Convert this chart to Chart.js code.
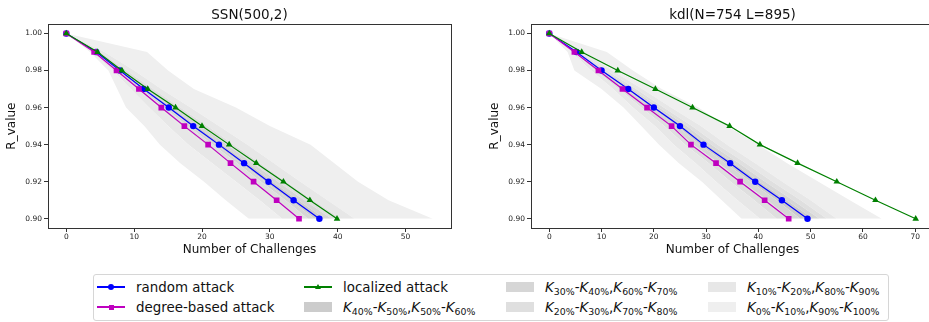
<!DOCTYPE html>
<html>
<head>
<meta charset="utf-8">
<script src="https://cdn.jsdelivr.net/npm/chart.js@4.4.1/dist/chart.umd.min.js"></script>
<style>
  html, body { margin: 0; padding: 0; background: #fff; }
  body { width: 929px; height: 322px; overflow: hidden; position: relative; font-family: "DejaVu Sans", sans-serif; color: #111; }
  canvas { position: absolute; top: 0; }
  #ssn { left: 0; }
  #kdl { left: 465px; }
  .legend { position: absolute; left: 93px; top: 274px; width: 796px; height: 47px; box-sizing: border-box;
            border: 1px solid #d6d6d6; border-radius: 3px; background: #fff; }
  .item { position: absolute; height: 20px; display: flex; align-items: center; font-size: 13.4px; white-space: nowrap; }
  .handle { position: relative; width: 28px; height: 20px; margin-right: 11px; flex: none; }
  .handle .ln { position: absolute; left: 0; right: 0; top: 9.4px; height: 1.3px; }
  .handle .mk { position: absolute; }
  .handle .patch { position: absolute; left: 0; top: 5px; width: 28px; height: 10px; }
  .k sub { font-size: 70%; vertical-align: baseline; position: relative; top: 0.32em; }
  .k i { font-style: italic; }
</style>
</head>
<body>
<canvas id="ssn" width="465" height="262"></canvas>
<canvas id="kdl" width="476" height="262"></canvas>

<div class="legend"></div>
<div class="item" style="left:97px;top:277px">
  <div class="handle"><div class="ln" style="background:#0000ff"></div>
    <div class="mk" style="left:11px;top:7px;width:6px;height:6px;border-radius:50%;background:#0000ff"></div></div>
  random attack</div>
<div class="item" style="left:97px;top:297px">
  <div class="handle"><div class="ln" style="background:#bf00bf"></div>
    <div class="mk" style="left:11.5px;top:7.5px;width:5px;height:5px;background:#bf00bf"></div></div>
  degree-based attack</div>
<div class="item" style="left:304px;top:277px">
  <div class="handle"><div class="ln" style="background:#008000"></div>
    <div class="mk" style="left:11px;top:7px;width:0;height:0;border-left:3px solid transparent;border-right:3px solid transparent;border-bottom:5.5px solid #008000"></div></div>
  localized attack</div>
<div class="item" style="left:304px;top:297px">
  <div class="handle"><div class="patch" style="background:#cccccc"></div></div>
  <span class="k"><i>K</i><sub>40%</sub>-<i>K</i><sub>50%</sub>,<i>K</i><sub>50%</sub>-<i>K</i><sub>60%</sub></span></div>
<div class="item" style="left:506px;top:277px">
  <div class="handle"><div class="patch" style="background:#d6d6d6"></div></div>
  <span class="k"><i>K</i><sub>30%</sub>-<i>K</i><sub>40%</sub>,<i>K</i><sub>60%</sub>-<i>K</i><sub>70%</sub></span></div>
<div class="item" style="left:506px;top:297px">
  <div class="handle"><div class="patch" style="background:#dfdfdf"></div></div>
  <span class="k"><i>K</i><sub>20%</sub>-<i>K</i><sub>30%</sub>,<i>K</i><sub>70%</sub>-<i>K</i><sub>80%</sub></span></div>
<div class="item" style="left:708px;top:277px">
  <div class="handle"><div class="patch" style="background:#e7e7e7"></div></div>
  <span class="k"><i>K</i><sub>10%</sub>-<i>K</i><sub>20%</sub>,<i>K</i><sub>80%</sub>-<i>K</i><sub>90%</sub></span></div>
<div class="item" style="left:708px;top:297px">
  <div class="handle"><div class="patch" style="background:#efefef"></div></div>
  <span class="k"><i>K</i><sub>0%</sub>-<i>K</i><sub>10%</sub>,<i>K</i><sub>90%</sub>-<i>K</i><sub>100%</sub></span></div>

<script>
// R levels reached (vertical axis) and tick labels
const rLevels = [1.00, 0.99, 0.98, 0.97, 0.96, 0.95, 0.94, 0.93, 0.92, 0.91, 0.90];
const rTicks = [0.90, 0.92, 0.94, 0.96, 0.98, 1.00];
const ssnXTicks = [0, 10, 20, 30, 40, 50];
const kdlXTicks = [0, 10, 20, 30, 40, 50, 60, 70];

// SSN(500,2): challenges needed to reach each R level
const ssnRandom    = [0, 4.4, 7.9, 11.4, 15.1, 18.7, 22.5, 26.2, 29.8, 33.5, 37.3];
const ssnDegree    = [0, 4.1, 7.4, 10.7, 14.0, 17.4, 20.9, 24.2, 27.6, 31.0, 34.3];
const ssnLocalized = [0, 4.6, 8.2, 12.0, 16.1, 20.0, 24.0, 28.0, 32.0, 35.9, 39.9];

// SSN(500,2): percentiles K0% .. K100% of the random-attack runs
const ssnK0   = [0, 3.5, 6.2, 7.5, 8.8, 11.5, 13.8, 16.8, 20.3, 23.5, 26.9];
const ssnK10  = [0, 3.8, 6.8, 9.5, 12.2, 15.0, 18.0, 21.5, 25.0, 28.5, 31.8];
const ssnK20  = [0, 4.0, 7.2, 10.4, 13.7, 17.0, 20.5, 24.1, 27.6, 31.1, 34.2];
const ssnK30  = [0, 4.2, 7.5, 10.9, 14.4, 17.9, 21.6, 25.2, 28.7, 32.3, 35.6];
const ssnK40  = [0, 4.3, 7.7, 11.2, 14.8, 18.4, 22.1, 25.8, 29.3, 33.0, 36.6];
const ssnK50  = [0, 4.4, 7.9, 11.4, 15.1, 18.7, 22.5, 26.2, 29.8, 33.5, 37.3];
const ssnK60  = [0, 4.5, 8.1, 11.7, 15.5, 19.2, 23.0, 26.8, 30.4, 34.2, 38.1];
const ssnK70  = [0, 4.7, 8.4, 12.1, 16.0, 19.8, 23.7, 27.5, 31.2, 35.1, 39.1];
const ssnK80  = [0, 5.0, 8.9, 12.8, 16.8, 20.8, 24.7, 28.6, 32.4, 36.4, 40.5];
const ssnK90  = [0, 5.6, 10.0, 14.0, 18.3, 22.5, 26.7, 30.6, 34.5, 38.5, 42.5];
const ssnK100 = [0, 11.9, 15.0, 18.8, 25.0, 30.0, 36.0, 39.5, 43.0, 47.5, 54.0];

// kdl(N=754 L=895)
const kdlRandom    = [0, 5.2, 10.0, 15.1, 20.0, 25.0, 29.5, 34.6, 39.4, 44.5, 49.4];
const kdlDegree    = [0, 4.8, 9.4, 14.0, 18.7, 23.4, 27.1, 31.9, 36.5, 41.2, 45.8];
const kdlLocalized = [0, 6.2, 13.1, 20.3, 27.4, 34.5, 40.3, 47.5, 55.0, 62.4, 70.1];

const kdlK0   = [0, 3.5, 4.8, 10.0, 14.2, 17.6, 21.0, 24.8, 29.2, 33.0, 36.8];
const kdlK10  = [0, 4.2, 8.0, 12.2, 16.0, 20.2, 23.8, 28.0, 31.9, 36.0, 40.3];
const kdlK20  = [0, 4.6, 8.8, 13.3, 17.6, 22.0, 26.0, 30.5, 34.7, 39.2, 43.5];
const kdlK30  = [0, 4.9, 9.4, 14.1, 18.7, 23.4, 27.6, 32.4, 36.9, 41.7, 46.0];
const kdlK40  = [0, 5.1, 9.8, 14.7, 19.5, 24.4, 28.8, 33.8, 38.5, 43.5, 48.0];
const kdlK50  = [0, 5.2, 10.0, 15.1, 20.0, 25.0, 29.5, 34.6, 39.4, 44.5, 49.4];
const kdlK60  = [0, 5.3, 10.2, 15.4, 20.4, 25.5, 30.1, 35.3, 40.2, 45.4, 50.5];
const kdlK70  = [0, 5.5, 10.5, 15.9, 21.0, 26.3, 31.0, 36.3, 41.3, 46.6, 51.7];
const kdlK80  = [0, 5.8, 11.0, 16.6, 21.9, 27.3, 32.2, 37.6, 42.7, 48.1, 53.1];
const kdlK90  = [0, 6.5, 12.0, 17.8, 23.3, 29.0, 34.0, 39.4, 44.6, 50.0, 55.0];
const kdlK100 = [0, 11.0, 16.0, 21.5, 28.5, 34.0, 40.0, 45.5, 51.5, 57.5, 63.6];

// band shades, outermost (K0-K10 / K90-K100) to innermost (K40-K60)
const bandShades = ['#efefef', '#e7e7e7', '#dfdfdf', '#d6d6d6', '#cccccc'];

Chart.defaults.font.family = "'DejaVu Sans', sans-serif";

const frameBox = {
  id: 'frameBox',
  afterDraw(chart) {
    const { ctx, chartArea: a } = chart;
    ctx.save();
    ctx.strokeStyle = '#333';
    ctx.lineWidth = 1;
    const l = Math.round(a.left) + 0.5, t = Math.round(a.top) + 0.5;
    ctx.strokeRect(l, t, Math.round(a.right) - Math.round(a.left), Math.round(a.bottom) - Math.round(a.top));
    ctx.restore();
  }
};

const toPoints = arr => arr.map((x, j) => ({ x: x, y: rLevels[j] }));

function buildChart(id, spec) {
  const datasets = [];
  spec.quantiles.forEach((arr, i) => {
    datasets.push({
      data: toPoints(arr),
      borderColor: 'rgba(0,0,0,0)',
      borderWidth: 0,
      pointRadius: 0,
      backgroundColor: i === 0 ? 'rgba(0,0,0,0)' : bandShades[Math.min(i - 1, 10 - i)],
      fill: i === 0 ? false : i - 1,
      order: 10
    });
  });
  const series = [
    { label: 'random attack', data: spec.random, color: '#0000ff', style: 'circle', r: 3.2, order: 2 },
    { label: 'degree-based attack', data: spec.degree, color: '#bf00bf', style: 'rect', r: 4.0, order: 1 },
    { label: 'localized attack', data: spec.localized, color: '#008000', style: 'triangle', r: 3.8, order: 0 }
  ];
  series.forEach(s => {
    datasets.push({
      label: s.label,
      data: toPoints(s.data),
      borderColor: s.color,
      backgroundColor: s.color,
      borderWidth: 1.2,
      pointStyle: s.style,
      pointRadius: s.r,
      pointBorderWidth: 0,
      pointBackgroundColor: s.color,
      fill: false,
      order: s.order
    });
  });

  return new Chart(document.getElementById(id), {
    type: 'line',
    data: { datasets },
    plugins: [frameBox],
    options: {
      indexAxis: 'y',
      responsive: false,
      animation: false,
      devicePixelRatio: 1,
      events: [],
      layout: { padding: { left: spec.padLeft, right: spec.padRight, top: 0, bottom: 0 } },
      plugins: {
        legend: { display: false },
        tooltip: { enabled: false },
        title: {
          display: true, text: spec.title, fullSize: false, color: '#111',
          font: { size: 13.5, weight: 'normal' }, padding: { top: 7, bottom: 1 }
        }
      },
      scales: {
        x: {
          type: 'linear', position: 'bottom', min: spec.xMin, max: spec.xMax,
          afterBuildTicks: s => { s.ticks = spec.xTicks.map(v => ({ value: v })); },
          afterFit: s => { s.height = 34; },
          border: { display: false },
          grid: { display: true, drawOnChartArea: false, drawTicks: true, tickLength: 4, color: '#333' },
          ticks: { color: '#222', font: { size: 7.5 }, padding: 1, maxRotation: 0, autoSkip: false },
          title: { display: true, text: 'Number of Challenges', color: '#111', font: { size: 12 }, padding: { top: 0, bottom: 5 } }
        },
        y: {
          type: 'linear', position: 'left', min: 0.895, max: 1.005,
          afterBuildTicks: s => { s.ticks = rTicks.map(v => ({ value: v })); },
          afterFit: s => { s.width = 48; },
          border: { display: false },
          grid: { display: true, drawOnChartArea: false, drawTicks: true, tickLength: 4, color: '#333' },
          ticks: { color: '#222', font: { size: 7.5 }, padding: 2, autoSkip: false, callback: v => Number(v).toFixed(2) },
          title: { display: true, text: 'R_value', color: '#111', font: { size: 12 }, padding: { top: 5, bottom: 0 } }
        }
      }
    }
  });
}

buildChart('ssn', {
  title: 'SSN(500,2)',
  random: ssnRandom, degree: ssnDegree, localized: ssnLocalized,
  quantiles: [ssnK0, ssnK10, ssnK20, ssnK30, ssnK40, ssnK50, ssnK60, ssnK70, ssnK80, ssnK90, ssnK100],
  xTicks: ssnXTicks, xMin: -2.7, xMax: 56.7, padLeft: 0, padRight: 14
});

buildChart('kdl', {
  title: 'kdl(N=754 L=895)',
  random: kdlRandom, degree: kdlDegree, localized: kdlLocalized,
  quantiles: [kdlK0, kdlK10, kdlK20, kdlK30, kdlK40, kdlK50, kdlK60, kdlK70, kdlK80, kdlK90, kdlK100],
  xTicks: kdlXTicks, xMin: -3.5, xMax: 73.6, padLeft: 18, padRight: 7
});
</script>
</body>
</html>
